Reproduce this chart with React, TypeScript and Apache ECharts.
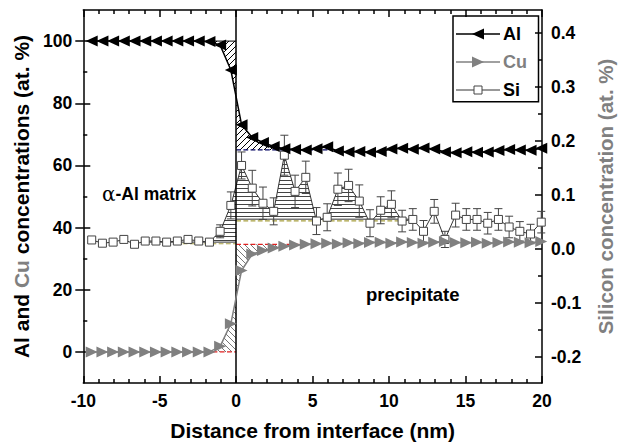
import React, { useEffect, useRef } from 'react';
import * as echarts from 'echarts';

// Distance from interface (nm), bin centres
const distance = [
  -9.45, -8.75, -8.05, -7.35, -6.65, -5.95, -5.25, -4.55, -3.85, -3.15, -2.45, -1.75, -1.05, -0.35,
  0.35, 1.05, 1.75, 2.45, 3.15, 3.85, 4.55, 5.25, 5.95, 6.65, 7.35, 8.05, 8.75, 9.45, 10.15,
  10.85, 11.55, 12.25, 12.95, 13.65, 14.35, 15.05, 15.75, 16.45, 17.15, 17.85, 18.55, 19.25, 19.95,
];
// Al concentration (at. %)
const alConc = [
  100, 100, 100, 100, 100, 100, 100, 100, 100, 100, 100, 99.9, 98.7, 90.7,
  73.1, 69.0, 67.4, 66.1, 65.4, 65.1, 65.0, 65.4, 66.0, 64.6, 64.3, 64.5, 64.2, 64.5, 65.3,
  65.5, 65.2, 65.6, 65.3, 64.3, 64.1, 64.4, 64.2, 64.3, 64.8, 65.1, 65.0, 64.9, 65.5,
];
// Cu concentration (at. %)
const cuConc = [
  0, 0, 0, 0, 0, 0, 0, 0, 0, 0, 0, 0, 1.8, 9.1,
  26.2, 31.5, 32.6, 33.4, 34.0, 34.4, 34.6, 34.8, 35.0, 34.7, 35.1, 34.9, 35.2, 35.3, 35.0,
  35.4, 35.2, 35.0, 35.3, 35.5, 35.2, 35.1, 35.3, 35.0, 35.2, 35.4, 35.3, 35.1, 35.5,
];
// Si concentration (at. %), right axis
const siConc = [
  0.017, 0.011, 0.013, 0.018, 0.009, 0.015, 0.015, 0.013, 0.015, 0.018, 0.015, 0.013, 0.033, 0.081,
  0.155, 0.113, 0.085, 0.070, 0.174, 0.107, 0.133, 0.052, 0.059, 0.111, 0.118, 0.089, 0.048, 0.072, 0.083,
  0.052, 0.055, 0.033, 0.070, 0.018, 0.063, 0.055, 0.055, 0.048, 0.055, 0.041, 0.033, 0.028, 0.050,
];
const siErr = [
  0.004, 0.004, 0.004, 0.004, 0.004, 0.004, 0.004, 0.004, 0.004, 0.004, 0.004, 0.004, 0.012, 0.025,
  0.025, 0.033, 0.03, 0.025, 0.037, 0.03, 0.03, 0.025, 0.025, 0.03, 0.03, 0.03, 0.025, 0.025, 0.025,
  0.02, 0.02, 0.02, 0.022, 0.015, 0.022, 0.02, 0.02, 0.02, 0.02, 0.02, 0.018, 0.018, 0.02,
];
// reference levels used for the hatched excess areas
const alMatrixLevel = 100;
const alPrecipLevel = 65;
const cuMatrixLevel = 0;
const cuPrecipLevel = 34.6;
const siMatrixLevel = 0.013;
const siPrecipLevel = 0.0555;

const leftMajor = [0, 20, 40, 60, 80, 100];
const leftMinor = [10, 30, 50, 70, 90];
const rightMajor = [-0.2, -0.1, 0.0, 0.1, 0.2, 0.3, 0.4];
const rightMinor = [-0.15, -0.05, 0.05, 0.15, 0.25, 0.35];

const legendNames = ['Al', 'Cu', 'Si'];
const legendTextColors = ['#000', '#808080', '#000'];

const FONT = '"Liberation Sans", Arial, Helvetica, sans-serif';
const IFACE = 13; // index of last bin before interface

function hatchCanvas(kind: 'fwd' | 'back' | 'horiz', color: string) {
  const c = document.createElement('canvas');
  const s = kind === 'horiz' ? 4 : 6;
  c.width = s;
  c.height = s;
  const g = c.getContext('2d')!;
  g.strokeStyle = color;
  g.lineWidth = 1;
  g.beginPath();
  if (kind === 'horiz') {
    g.moveTo(0, 0.5);
    g.lineTo(s, 0.5);
  } else if (kind === 'fwd') {
    g.moveTo(-1, s + 1);
    g.lineTo(s + 1, -1);
    g.moveTo(-1, 1);
    g.lineTo(1, -1);
    g.moveTo(s - 1, s + 1);
    g.lineTo(s + 1, s - 1);
  } else {
    g.moveTo(-1, -1);
    g.lineTo(s + 1, s + 1);
    g.moveTo(s - 1, -1);
    g.lineTo(s + 1, 1);
    g.moveTo(-1, s - 1);
    g.lineTo(1, s + 1);
  }
  g.stroke();
  return { image: c, repeat: 'repeat' } as any;
}

function atInterface(ys: number[]) {
  const x0 = distance[IFACE], x1 = distance[IFACE + 1];
  return ys[IFACE] + ((ys[IFACE + 1] - ys[IFACE]) * (0 - x0)) / (x1 - x0);
}
function leftRegion(ys: number[], from: number) {
  const pts: number[][] = [];
  for (let i = from; i <= IFACE; i++) pts.push([distance[i], ys[i]]);
  pts.push([0, atInterface(ys)]);
  return pts;
}
function rightRegion(ys: number[], to: number) {
  const pts: number[][] = [[0, atInterface(ys)]];
  for (let i = IFACE + 1; i <= to; i++) pts.push([distance[i], ys[i]]);
  return pts;
}

function legendGraphic() {
  const bx = 453, by = 16, bw = 85.5, bh = 85.7;
  const rows = [34, 62, 90];
  const lx0 = 456, lx1 = 500, mx = 478;
  const children: any[] = [
    { type: 'rect', shape: { x: bx, y: by, width: bw, height: bh }, style: { fill: '#fff', stroke: '#000', lineWidth: 1.5 } },
  ];
  // Al
  children.push({ type: 'line', shape: { x1: lx0, y1: rows[0], x2: lx1, y2: rows[0] }, style: { stroke: '#000', lineWidth: 1.5 } });
  children.push({ type: 'polygon', shape: { points: [[mx - 6, rows[0]], [mx + 6, rows[0] - 5.5], [mx + 6, rows[0] + 5.5]] }, style: { fill: '#000' } });
  // Cu
  children.push({ type: 'line', shape: { x1: lx0, y1: rows[1], x2: lx1, y2: rows[1] }, style: { stroke: '#808080', lineWidth: 1.5 } });
  children.push({ type: 'polygon', shape: { points: [[mx + 6, rows[1]], [mx - 6, rows[1] - 5.5], [mx - 6, rows[1] + 5.5]] }, style: { fill: '#808080' } });
  // Si
  children.push({ type: 'line', shape: { x1: lx0, y1: rows[2], x2: lx1, y2: rows[2] }, style: { stroke: '#333', lineWidth: 1 } });
  children.push({ type: 'rect', shape: { x: mx - 4, y: rows[2] - 4, width: 8, height: 8 }, style: { fill: '#fff', stroke: '#444', lineWidth: 1 } });
  legendNames.forEach((n, i) => {
    children.push({
      type: 'text',
      x: 503,
      y: rows[i],
      style: { text: n, fill: legendTextColors[i], fontSize: 18, fontWeight: 'bold', fontFamily: FONT, verticalAlign: 'middle', align: 'left' },
    });
  });
  return { type: 'group', children, z: 20 };
}

function buildOption() {
  const axisLine = { show: true, onZero: false, lineStyle: { color: '#000', width: 1.5 } };
  const tickStyle = { color: '#000', width: 1.5 };
  const labelStyle = { color: '#000', fontSize: 17.5, fontWeight: 'bold' as const, fontFamily: FONT };

  const hatchArea = (data: number[][], origin: number, pattern: any, yAxisIndex = 0) => ({
    type: 'line',
    data,
    xAxisIndex: 0,
    yAxisIndex,
    symbol: 'none',
    silent: true,
    lineStyle: { width: 0, opacity: 0 },
    areaStyle: { color: pattern, origin, opacity: 1 },
    z: 1,
  });
  const levelLine = (x0: number, x1: number, v: number, color: string, type: string, yAxisIndex = 0, width = 1) => ({
    type: 'line',
    data: [[x0, v], [x1, v]],
    xAxisIndex: 0,
    yAxisIndex,
    symbol: 'none',
    silent: true,
    lineStyle: { color, width, type },
    z: 2,
  });

  const blackFwd = hatchCanvas('fwd', '#000');
  const grayBack = hatchCanvas('back', '#777');
  const siHoriz = hatchCanvas('horiz', '#444');

  const errData = distance.map((x, i) => [x, siConc[i] - siErr[i], siConc[i] + siErr[i]]);

  return {
    animation: false,
    backgroundColor: '#fff',
    textStyle: { fontFamily: FONT },
    grid: { left: 83.3, right: 75.7, top: 10, bottom: 61.7, containLabel: false },
    xAxis: [
      {
        type: 'value',
        min: -10,
        max: 20,
        interval: 5,
        position: 'bottom',
        axisLine,
        axisTick: { show: true, inside: true, length: 7, lineStyle: tickStyle },
        minorTick: { show: true, splitNumber: 5, length: 4, lineStyle: tickStyle },
        splitLine: { show: false },
        axisLabel: { ...labelStyle, margin: 9 },
        name: 'Distance from interface (nm)',
        nameLocation: 'middle',
        nameGap: 37,
        nameTextStyle: { color: '#000', fontSize: 21, fontWeight: 'bold', fontFamily: FONT },
      },
      {
        type: 'value',
        min: -10,
        max: 20,
        interval: 5,
        position: 'top',
        axisLine,
        axisTick: { show: true, inside: true, length: 7, lineStyle: tickStyle },
        minorTick: { show: true, splitNumber: 5, length: 4, lineStyle: tickStyle },
        splitLine: { show: false },
        axisLabel: { show: false },
      },
    ],
    yAxis: [
      {
        type: 'value',
        min: -10,
        max: 110,
        position: 'left',
        axisLine,
        axisTick: { show: true, inside: false, length: 8, lineStyle: tickStyle, customValues: leftMajor },
        axisLabel: { ...labelStyle, margin: 11, customValues: leftMajor },
        splitLine: { show: false },
        name: '{a|Al and }{g|Cu}{a| concentrations (at. %)}',
        nameLocation: 'middle',
        nameGap: 50,
        nameTextStyle: {
          rich: {
            a: { color: '#000', fontSize: 21, fontWeight: 'bold', fontFamily: FONT },
            g: { color: '#808080', fontSize: 21, fontWeight: 'bold', fontFamily: FONT },
          },
        },
      },
      {
        type: 'value',
        min: -0.248,
        max: 0.443,
        position: 'right',
        axisLine,
        axisTick: { show: true, inside: true, length: 7, lineStyle: tickStyle, customValues: rightMajor },
        axisLabel: { ...labelStyle, margin: 9, customValues: rightMajor, formatter: (v: number) => v.toFixed(1) },
        splitLine: { show: false },
        name: 'Silicon concentration (at. %)',
        nameLocation: 'middle',
        nameGap: 53,
        nameTextStyle: { color: '#808080', fontSize: 20.5, fontWeight: 'bold', fontFamily: FONT },
      },
      {
        type: 'value',
        min: -10,
        max: 110,
        position: 'left',
        axisLine: { show: false, onZero: false },
        axisTick: { show: true, inside: true, length: 7, lineStyle: tickStyle, customValues: leftMajor },
        axisLabel: { show: false },
        splitLine: { show: false },
      },
      {
        type: 'value',
        min: -10,
        max: 110,
        position: 'left',
        axisLine: { show: false, onZero: false },
        axisTick: { show: true, inside: true, length: 4, lineStyle: tickStyle, customValues: leftMinor },
        axisLabel: { show: false },
        splitLine: { show: false },
      },
      {
        type: 'value',
        min: -0.248,
        max: 0.443,
        position: 'right',
        axisLine: { show: false, onZero: false },
        axisTick: { show: true, inside: true, length: 4, lineStyle: tickStyle, customValues: rightMinor },
        axisLabel: { show: false },
        splitLine: { show: false },
      },
    ],
    graphic: [
      {
        type: 'text',
        left: 102,
        top: 184,
        style: {
          text: '{s|α}{b|-Al matrix}',
          rich: {
            s: { fontSize: 20, fontFamily: '"DejaVu Serif", "Liberation Serif", serif', fill: '#000' },
            b: { fontSize: 17.5, fontWeight: 'bold', fontFamily: FONT, fill: '#000' },
          },
        },
        z: 10,
      },
      {
        type: 'text',
        left: 366,
        top: 285,
        style: { text: 'precipitate', fontSize: 18.5, fontWeight: 'bold', fontFamily: FONT, fill: '#000' },
        z: 10,
      },
      legendGraphic(),
    ],
    series: [
      // hatched excess areas
      hatchArea(leftRegion(alConc, 11), alMatrixLevel, blackFwd),
      hatchArea(rightRegion(alConc, 18), alPrecipLevel, blackFwd),
      hatchArea(leftRegion(cuConc, 11), cuMatrixLevel, grayBack),
      hatchArea(rightRegion(cuConc, 18), cuPrecipLevel, grayBack),
      hatchArea(leftRegion(siConc, 11), siMatrixLevel, siHoriz, 1),
      hatchArea(rightRegion(siConc, 30), siPrecipLevel, siHoriz, 1),
      // level lines
      levelLine(-1.6, 0, alMatrixLevel, '#000', 'solid', 0, 1),
      levelLine(0, 6, alPrecipLevel, '#000060', 'dashed', 0, 1.2),
      levelLine(-3.9, 0, cuMatrixLevel, '#e02020', 'dashed', 0, 1.2),
      levelLine(0, 4.5, cuPrecipLevel, '#e02020', 'dashed', 0, 1.2),
      levelLine(-6.2, 0, siMatrixLevel, '#333', 'solid', 1, 1),
      levelLine(-3.5, 0, siMatrixLevel - 0.003, '#a8a040', 'dashed', 1, 1.2),
      levelLine(0, 11.7, siPrecipLevel, '#333', 'solid', 1, 1),
      levelLine(0, 11.7, siPrecipLevel - 0.003, '#a8a040', 'dashed', 1, 1.2),
      // Si error bars
      {
        type: 'custom',
        xAxisIndex: 0,
        yAxisIndex: 1,
        silent: true,
        z: 3,
        data: errData,
        encode: { x: 0, y: [1, 2] },
        renderItem: (params: any, api: any) => {
          const x = api.value(0);
          const lo = api.coord([x, api.value(1)]);
          const hi = api.coord([x, api.value(2)]);
          const w = 4;
          const st = { stroke: '#444', lineWidth: 1 };
          return {
            type: 'group',
            children: [
              { type: 'line', shape: { x1: lo[0], y1: lo[1], x2: hi[0], y2: hi[1] }, style: st },
              { type: 'line', shape: { x1: lo[0] - w, y1: lo[1], x2: lo[0] + w, y2: lo[1] }, style: st },
              { type: 'line', shape: { x1: hi[0] - w, y1: hi[1], x2: hi[0] + w, y2: hi[1] }, style: st },
            ],
          };
        },
      },
      {
        name: 'Si',
        type: 'line',
        xAxisIndex: 0,
        yAxisIndex: 1,
        data: distance.map((x, i) => [x, siConc[i]]),
        symbol: 'rect',
        symbolSize: 8,
        lineStyle: { color: '#333', width: 1 },
        itemStyle: { color: '#fff', borderColor: '#444', borderWidth: 1 },
        z: 4,
      },
      {
        name: 'Cu',
        type: 'line',
        xAxisIndex: 0,
        yAxisIndex: 0,
        data: distance.map((x, i) => [x, cuConc[i]]),
        symbol: 'triangle',
        symbolRotate: -90,
        symbolSize: [11, 12],
        lineStyle: { color: '#808080', width: 1.5 },
        itemStyle: { color: '#808080' },
        z: 5,
      },
      {
        name: 'Al',
        type: 'line',
        xAxisIndex: 0,
        yAxisIndex: 0,
        data: distance.map((x, i) => [x, alConc[i]]),
        symbol: 'triangle',
        symbolRotate: 90,
        symbolSize: [11, 12],
        lineStyle: { color: '#000', width: 1.5 },
        itemStyle: { color: '#000' },
        z: 6,
        markLine: {
          silent: true,
          symbol: ['none', 'none'],
          label: { show: false },
          lineStyle: { color: '#000', width: 1.5, type: 'solid' },
          data: [{ xAxis: 0 }],
        },
      },
    ],
  };
}

export default function App() {
  const ref = useRef<HTMLDivElement>(null);
  useEffect(() => {
    const chart = echarts.init(ref.current!, null, { renderer: 'svg' });
    chart.setOption(buildOption() as any);
    return () => chart.dispose();
  }, []);
  return (
    <div
      ref={ref}
      style={{ position: 'fixed', left: 0, top: 0, width: 624, height: 446, background: '#fff' }}
    />
  );
}
